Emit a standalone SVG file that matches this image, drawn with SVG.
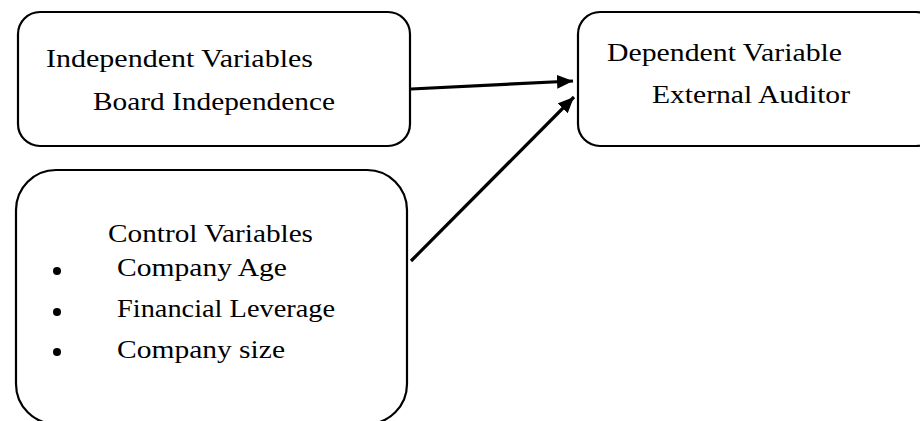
<svg xmlns="http://www.w3.org/2000/svg" width="920" height="421" viewBox="0 0 920 421">
  <defs>
    <marker id="arrowhead" viewBox="0 0 16 14" refX="16" refY="7" markerWidth="16" markerHeight="14" markerUnits="userSpaceOnUse" orient="auto">
      <path d="M0,0 L16,7 L0,14 Z" fill="#000"/>
    </marker>
    <style>
      .box { fill: #fff; stroke: #000; stroke-width: 2.2; }
      .label { font-family: "Liberation Serif", "Times New Roman", serif; font-size: 25.5px; fill: #000; }
      .link { stroke: #000; stroke-width: 3.2; fill: none; }
    </style>
  </defs>
  <rect width="920" height="421" fill="#fff"/>

  <g id="independent">
    <rect class="box" x="18" y="12" width="392" height="134" rx="22" ry="22"/>
    <text class="label" x="46" y="67" textLength="267" lengthAdjust="spacingAndGlyphs">Independent Variables</text>
    <text class="label" x="93" y="110" textLength="242" lengthAdjust="spacingAndGlyphs">Board Independence</text>
  </g>

  <g id="dependent">
    <rect class="box" x="578" y="12" width="360" height="134" rx="22" ry="22"/>
    <text class="label" x="607" y="61" textLength="235" lengthAdjust="spacingAndGlyphs">Dependent Variable</text>
    <text class="label" x="652" y="103" textLength="198" lengthAdjust="spacingAndGlyphs">External Auditor</text>
  </g>

  <g id="control">
    <rect class="box" x="16" y="170" width="391" height="254" rx="40" ry="40"/>
    <text class="label" x="108" y="242" textLength="205" lengthAdjust="spacingAndGlyphs">Control Variables</text>
    <circle cx="57" cy="271" r="4"/>
    <circle cx="57" cy="312" r="4"/>
    <circle cx="57" cy="352" r="4"/>
    <text class="label" x="117" y="276" textLength="170" lengthAdjust="spacingAndGlyphs">Company Age</text>
    <text class="label" x="117" y="317" textLength="218" lengthAdjust="spacingAndGlyphs">Financial Leverage</text>
    <text class="label" x="117" y="358" textLength="168" lengthAdjust="spacingAndGlyphs">Company size</text>
  </g>

  <g id="connectors">
    <line class="link" x1="411" y1="89" x2="573" y2="81" marker-end="url(#arrowhead)"/>
    <line class="link" x1="411" y1="261" x2="574" y2="97" marker-end="url(#arrowhead)"/>
  </g>
</svg>
